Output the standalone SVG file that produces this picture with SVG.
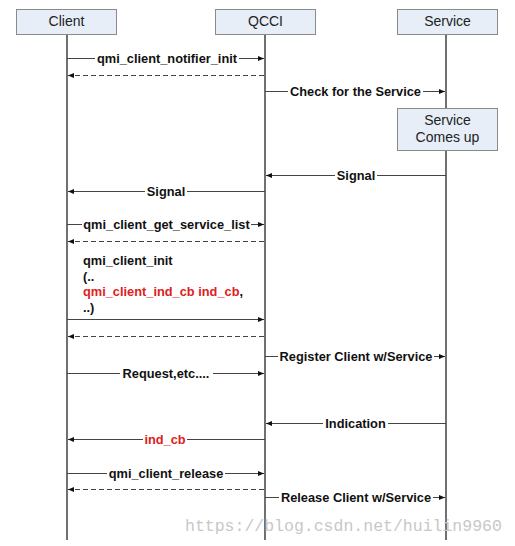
<svg xmlns="http://www.w3.org/2000/svg" width="515" height="546" viewBox="0 0 515 546">
<style>
.box{fill:#e7eef8;stroke:#8a8a8a;stroke-width:1}
.hd{font-family:"Liberation Sans",Arial,sans-serif;font-size:14px;fill:#222;text-anchor:middle}
.life{stroke:#111;stroke-width:1.2}
.msg{stroke:#444;stroke-width:1;fill:none}
.dash{stroke-dasharray:5,3}
.bg{fill:#fff}
.lbl{font-family:"Liberation Sans",Arial,sans-serif;font-size:12.8px;font-weight:bold;fill:#111;text-anchor:middle}
.red{fill:#e02020}
.plain{font-family:"Liberation Sans",Arial,sans-serif;font-size:12.8px;font-weight:bold;fill:#111}
</style>
<defs>
<marker id="ah" viewBox="0 0 10 10" refX="10" refY="5" markerWidth="8" markerHeight="6" orient="auto" markerUnits="userSpaceOnUse">
<path d="M0,1 L10,5 L0,9 z" fill="#111"/>
</marker>
</defs>
<rect width="515" height="546" fill="#fff"/>
<g id="lifelines">
<line class="life" x1="67" y1="34" x2="67" y2="540"/>
<line class="life" x1="265" y1="34" x2="265" y2="540"/>
<line class="life" x1="446" y1="34" x2="446" y2="108" stroke="#555"/>
<line class="life" x1="446" y1="150" x2="446" y2="540" stroke="#555"/>
</g>
<g id="client"><rect class="box" x="16.5" y="9.5" width="100" height="25"/><text class="hd" x="66.5" y="26">Client</text></g>
<g id="qcci"><rect class="box" x="215.5" y="9.5" width="100" height="25"/><text class="hd" x="265.5" y="26">QCCI</text></g>
<g id="service"><rect class="box" x="397.5" y="9.5" width="100" height="25"/><text class="hd" x="447.5" y="26">Service</text></g>
<g id="service-up"><rect class="box" x="397.5" y="108.5" width="100" height="42"/><text class="hd" x="447.5" y="125">Service</text><text class="hd" x="447.5" y="142">Comes up</text></g>
<g id="connectors">
<line class="msg" x1="67" y1="58.5" x2="264" y2="58.5" marker-end="url(#ah)"/>
<rect class="bg" x="95" y="52" width="144" height="13"/>
<text class="lbl" x="167" y="63">qmi_client_notifier_init</text>
<line class="msg dash" x1="264" y1="75.5" x2="68" y2="75.5" marker-end="url(#ah)"/>
<line class="msg" x1="265" y1="91.5" x2="445" y2="91.5" marker-end="url(#ah)"/>
<rect class="bg" x="288" y="85" width="135" height="13"/>
<text class="lbl" x="355.5" y="96">Check for the Service</text>
<line class="msg" x1="446" y1="175.5" x2="266" y2="175.5" marker-end="url(#ah)"/>
<rect class="bg" x="335" y="169" width="42" height="13"/>
<text class="lbl" x="356" y="180">Signal</text>
<line class="msg" x1="265" y1="191.5" x2="68" y2="191.5" marker-end="url(#ah)"/>
<rect class="bg" x="145" y="185" width="42" height="13"/>
<text class="lbl" x="166" y="196">Signal</text>
<line class="msg" x1="67" y1="224.5" x2="264" y2="224.5" marker-end="url(#ah)"/>
<rect class="bg" x="82" y="218" width="169" height="13"/>
<text class="lbl" x="166.5" y="229">qmi_client_get_service_list</text>
<line class="msg dash" x1="264" y1="241.5" x2="68" y2="241.5" marker-end="url(#ah)"/>
<text class="plain" x="83" y="264.5">qmi_client_init</text>
<text class="plain" x="83" y="281">(..</text>
<text class="plain" x="83" y="296">
<tspan class="red">qmi_client_ind_cb ind_cb</tspan>,</text>
<text class="plain" x="83" y="311.5">..)</text>
<line class="msg" x1="67" y1="319.5" x2="264" y2="319.5" marker-end="url(#ah)"/>
<line class="msg dash" x1="264" y1="336.5" x2="68" y2="336.5" marker-end="url(#ah)"/>
<line class="msg" x1="265" y1="356.5" x2="445" y2="356.5" marker-end="url(#ah)"/>
<rect class="bg" x="278" y="350" width="156" height="13"/>
<text class="lbl" x="356" y="361">Register Client w/Service</text>
<line class="msg" x1="67" y1="373.5" x2="264" y2="373.5" marker-end="url(#ah)"/>
<rect class="bg" x="120" y="367" width="93" height="13"/>
<text class="lbl" x="166" y="378">Request,etc....</text>
<line class="msg" x1="446" y1="423.5" x2="266" y2="423.5" marker-end="url(#ah)"/>
<rect class="bg" x="323" y="417" width="65" height="13"/>
<text class="lbl" x="355.5" y="428">Indication</text>
<line class="msg" x1="265" y1="439.5" x2="68" y2="439.5" marker-end="url(#ah)"/>
<rect class="bg" x="143" y="433" width="44" height="13"/>
<text class="lbl red" x="165" y="444">ind_cb</text>
<line class="msg" x1="67" y1="473.5" x2="264" y2="473.5" marker-end="url(#ah)"/>
<rect class="bg" x="107" y="467" width="118" height="13"/>
<text class="lbl" x="166" y="478">qmi_client_release</text>
<line class="msg dash" x1="264" y1="489.5" x2="68" y2="489.5" marker-end="url(#ah)"/>
<line class="msg" x1="265" y1="497.5" x2="445" y2="497.5" marker-end="url(#ah)"/>
<rect class="bg" x="279" y="491" width="154" height="13"/>
<text class="lbl" x="356" y="502">Release Client w/Service</text>
</g>
<text x="185" y="531" font-family="'Liberation Mono','DejaVu Sans Mono',monospace" font-size="16.5px" fill="#c8c8c8">https://blog.csdn.net/huilin9960</text>
</svg>
